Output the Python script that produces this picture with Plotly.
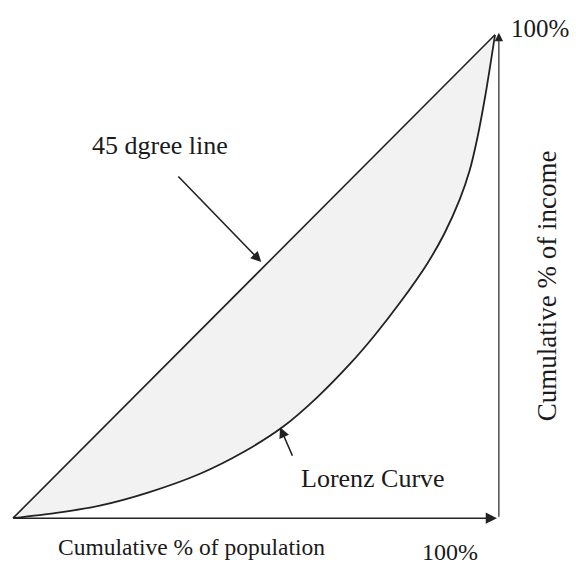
import plotly.graph_objects as go

# Data (percent)
diag_x = [0, 100]
diag_y = [0, 100]
pop = [0, 9, 18, 28, 38.8, 48, 56, 63, 69.9, 75, 80.3, 85.9, 89.5, 92.7, 94.7, 96.3, 98, 100]
inc = [0, 1.1, 2.6, 5.3, 9.2, 13.8, 18.9, 24.9, 31.9, 37.8, 44.6, 52.6, 58.9, 66.0, 71.8, 78.5, 87.5, 100]

FONT = "Liberation Serif"
TXT = "#1a1a1a"

fig = go.Figure()
fig.add_trace(go.Scatter(x=diag_x, y=diag_y, mode="lines",
                         line=dict(color="#222222", width=1.6), hoverinfo="skip"))
fig.add_trace(go.Scatter(x=pop, y=inc, mode="lines", line_shape="spline",
                         line=dict(color="#222222", width=1.8, smoothing=0.8),
                         fill="tonexty", fillcolor="#f2f2f2", hoverinfo="skip"))

ann = []
# axes arrows
ann.append(dict(x=100.4, y=0, ax=0, ay=0, xref="x", yref="y", axref="x", ayref="y",
                showarrow=True, arrowhead=2, arrowsize=1.4, arrowwidth=1.6,
                arrowcolor="#222222", text=""))
ann.append(dict(x=100.8, y=100.4, ax=100.8, ay=0, xref="x", yref="y", axref="x", ayref="y",
                showarrow=True, arrowhead=2, arrowsize=1.4, arrowwidth=1.2,
                arrowcolor="#222222", text=""))
# pointer arrows
ann.append(dict(x=51.5, y=53.0, ax=34.0, ay=71.0, xref="x", yref="y", axref="x", ayref="y",
                showarrow=True, arrowhead=2, arrowsize=1.3, arrowwidth=1.6,
                arrowcolor="#222222", text=""))
ann.append(dict(x=55.4, y=18.8, ax=58.1, ay=12.6, xref="x", yref="y", axref="x", ayref="y",
                showarrow=True, arrowhead=2, arrowsize=1.3, arrowwidth=1.6,
                arrowcolor="#222222", text=""))
# texts
def txt(x, y, s, size, angle=0):
    return dict(x=x, y=y, xref="x", yref="y", text=s, showarrow=False,
                textangle=angle, font=dict(family=FONT, size=size, color=TXT),
                xanchor="center", yanchor="middle", borderpad=0)

ann.append(txt(30.5, 77.2, "45 dgree line", 26))
ann.append(txt(74.7, 8.3, "Lorenz Curve", 26))
ann.append(txt(37.1, -6.0, "Cumulative % of population", 23.5))
ann.append(txt(90.7, -7.0, "100%", 24))
ann.append(txt(109.3, 101.4, "100%", 25))
ann.append(txt(110.8, 48.0, "Cumulative % of income", 27, angle=-90))

fig.update_layout(
    width=576, height=567,
    margin=dict(l=0, r=0, t=0, b=0),
    paper_bgcolor="white", plot_bgcolor="white",
    showlegend=False,
    annotations=ann,
    xaxis=dict(range=[-2.70, 116.8], visible=False, fixedrange=True),
    yaxis=dict(range=[-10.1, 107.2], visible=False, fixedrange=True),
)

fig.write_html("out.html", post_script="document.body.style.margin='0';",
               config={"displayModeBar": False})
